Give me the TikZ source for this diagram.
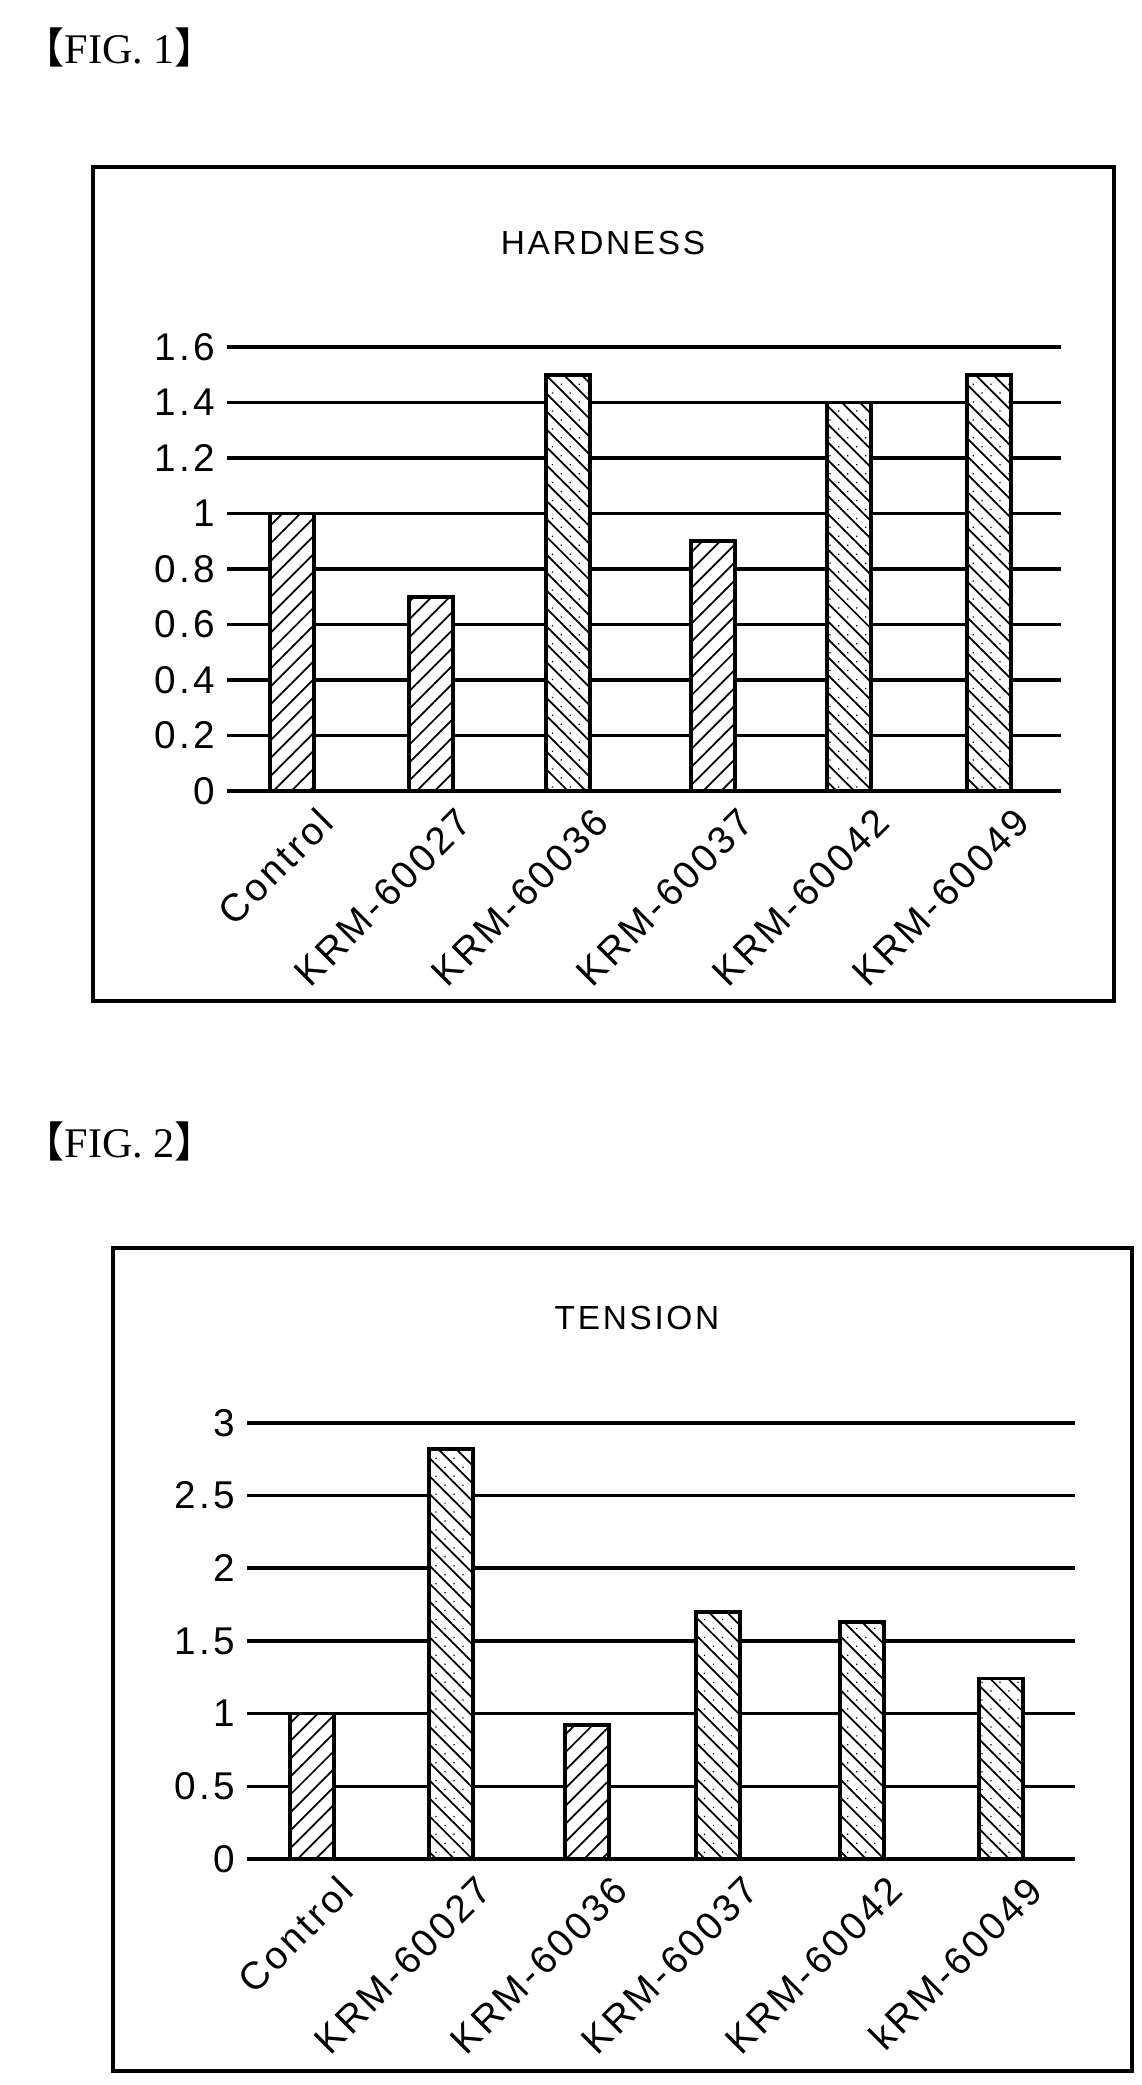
\documentclass[tikz,border=0pt]{standalone}
\usepackage{fontspec}
\setmainfont{Liberation Serif}
\setsansfont{Liberation Sans}[LetterSpace=8]
\newfontfamily\cjk{Noto Sans CJK SC}
\usetikzlibrary{patterns.meta}
\tikzset{
  frame/.style={line width=1.2pt},
  grid/.style={line width=1pt},
  barA/.style={draw,line width=1pt,fill=white,postaction={pattern={Lines[angle=45,distance=3.6pt,line width=0.5pt]}}},
  barB/.style={draw,line width=1pt,fill=white,postaction={pattern={Lines[angle=-45,distance=3.6pt,line width=0.5pt]}},postaction={pattern={Dots[angle=-45,distance=3.6pt,radius=0.25pt,xshift=1.8pt]}}},
  tick/.style={font=\sffamily\fontsize{11}{12}\selectfont,anchor=east},
  xlab/.style={font=\sffamily\fontsize{11}{12}\selectfont,anchor=north east,rotate=45,inner sep=1pt},
  ttl/.style={font=\sffamily\fontsize{9.5}{11}\selectfont},
  fig/.style={font=\fontsize{12}{14}\selectfont,anchor=west}
}
\begin{document}
\begin{tikzpicture}[x=0.01cm,y=-0.01cm]
\useasboundingbox (0,0) rectangle (1141,2085);
% ---------- FIG 1 ----------
\node[fig] (f1) at (10,47) {{\cjk 【}FIG. 1{\cjk 】}};
\draw[frame] (93,167) rectangle (1114,1001);
\node[ttl] (t1) at (603,243) {HARDNESS};
\foreach \v/\l in {0/0,1/0.2,2/0.4,3/0.6,4/0.8,5/1,6/1.2,7/1.4,8/1.6}{
  \draw[grid] (227,791-55.5*\v) -- (1061,791-55.5*\v);
  \node[tick] (ya\v) at (227,791-55.5*\v) {\l};
}
\foreach \c/\h/\s/\n [count=\i] in {292/1.0/barA/Control,431/0.7/barA/KRM-60027,568/1.5/barB/KRM-60036,713/0.9/barA/KRM-60037,849/1.4/barB/KRM-60042,989/1.5/barB/KRM-60049}{
  \draw[\s] (\c-22,791) rectangle (\c+22,791-277.5*\h);
  \node[xlab] (xa\i) at (\c+24,800) {\n};
}
% ---------- FIG 2 ----------
\node[fig] (f2) at (10,1141) {{\cjk 【}FIG. 2{\cjk 】}};
\draw[frame] (113,1248) rectangle (1132,2071);
\node[ttl] (t2) at (637,1318) {TENSION};
\foreach \v/\l in {0/0,1/0.5,2/1,3/1.5,4/2,5/2.5,6/3}{
  \draw[grid] (247,1859-72.7*\v) -- (1075,1859-72.7*\v);
  \node[tick] (yb\v) at (247,1859-72.7*\v) {\l};
}
\foreach \c/\h/\s/\n [count=\i] in {312/1.0/barA/Control,451/2.82/barB/KRM-60027,587/0.92/barA/KRM-60036,718/1.70/barB/KRM-60037,862/1.63/barB/KRM-60042,1001/1.24/barB/kRM-60049}{
  \draw[\s] (\c-22,1859) rectangle (\c+22,1859-145.4*\h);
  \node[xlab] (xb\i) at (\c+24,1868) {\n};
}
\end{tikzpicture}
\end{document}
